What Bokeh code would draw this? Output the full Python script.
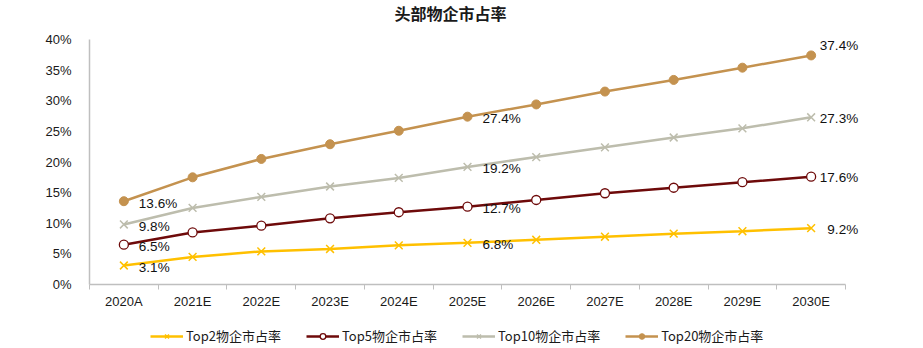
from bokeh.plotting import figure
from bokeh.layouts import column
from bokeh.models import (Range1d, FixedTicker, PrintfTickFormatter, Legend, LegendItem,
                          ColumnDataSource)
from bokeh.core.properties import value
from bokeh.embed import file_html
from bokeh.resources import INLINE

title_text = "头部物企市占率"
categories = ["2020A", "2021E", "2022E", "2023E", "2024E", "2025E",
              "2026E", "2027E", "2028E", "2029E", "2030E"]
top2 = [3.1, 4.5, 5.4, 5.8, 6.4, 6.8, 7.3, 7.8, 8.3, 8.7, 9.2]
top5 = [6.5, 8.5, 9.6, 10.8, 11.8, 12.7, 13.8, 14.9, 15.8, 16.7, 17.6]
top10 = [9.8, 12.5, 14.3, 16.0, 17.4, 19.2, 20.8, 22.4, 24.0, 25.5, 27.3]
top20 = [13.6, 17.5, 20.5, 22.9, 25.1, 27.4, 29.4, 31.5, 33.4, 35.4, 37.4]
series_names = ["Top2物企市占率", "Top5物企市占率", "Top10物企市占率", "Top20物企市占率"]
y_ticks = [0, 5, 10, 15, 20, 25, 30, 35, 40]
label_idx = [0, 5, 10]

FONT = "Liberation Sans"
CJK = "Noto Sans CJK SC"
BL, BR = 89, 53
TH, LH = 26, 30
n = len(categories)

# ---- title strip ----
tf = figure(width=923, height=TH, output_backend="svg", toolbar_location=None,
            x_axis_type=None, y_axis_type=None,
            x_range=Range1d(BL, 923 - BR), y_range=Range1d(0, TH),
            min_border_left=BL, min_border_right=BR, min_border_top=0, min_border_bottom=0)
tf.grid.visible = False
tf.outline_line_color = None
tf.text(x=[450], y=[TH - 12], text=[title_text], text_align="center", text_baseline="middle",
        text_font=value(CJK), text_font_size="16px", text_font_style="bold",
        text_color="#1a1a1a")

# ---- main chart ----
MH = 348 - TH - LH
p = figure(width=923, height=MH, output_backend="svg", toolbar_location=None,
           x_range=Range1d(-0.5, n - 0.5 + 25 / 68.73), y_range=Range1d(0, 40),
           min_border_left=BL, min_border_right=BR, min_border_top=39 - TH,
           min_border_bottom=MH - (284 - TH))
p.outline_line_color = None
p.xgrid.visible = False
p.ygrid.visible = False
p.background_fill_color = "white"
p.border_fill_color = "white"

xs = list(range(n))
xa = p.xaxis[0]
xa.bounds = (-0.5, n - 0.5)
xa.ticker = FixedTicker(ticks=xs, minor_ticks=[i - 0.5 for i in range(n + 1)])
xa.major_label_overrides = {i: c for i, c in enumerate(categories)}
xa.major_tick_line_color = None
xa.minor_tick_line_color = "#BFBFBF"
xa.minor_tick_out = 5
xa.minor_tick_in = 0
xa.axis_line_color = "#BFBFBF"
xa.axis_line_width = 1.5
xa.major_label_text_font = FONT
xa.major_label_text_font_size = "13px"
xa.major_label_text_color = "#1a1a1a"
xa.major_label_standoff = 3

ya = p.yaxis[0]
ya.ticker = FixedTicker(ticks=y_ticks)
ya.formatter = PrintfTickFormatter(format="%d%%")
ya.major_tick_line_color = None
ya.minor_tick_line_color = None
ya.axis_line_color = "#BFBFBF"
ya.axis_line_width = 1.5
ya.major_label_text_font = FONT
ya.major_label_text_font_size = "13px"
ya.major_label_text_color = "#1a1a1a"
ya.major_label_standoff = 12

# ---- legend strip ----
lf = figure(width=923, height=LH, output_backend="svg", toolbar_location=None,
            x_axis_type=None, y_axis_type=None,
            x_range=Range1d(1000, 1001), y_range=Range1d(1000, 1001),
            min_border_left=BL, min_border_right=BR, min_border_top=0, min_border_bottom=0)
lf.grid.visible = False
lf.outline_line_color = None

colors = ["#FFC000", "#6E0A0A", "#BDBDAD", "#C4924F"]
data = [top2, top5, top10, top20]
items = []


def draw(fig, src, i, col):
    ln = fig.line("x", "y", source=src, line_color=col, line_width=2.5)
    if i == 0 or i == 2:
        mk = fig.scatter("x", "y", source=src, marker="x", size=11, line_color=col, line_width=1.5)
    elif i == 1:
        mk = fig.scatter("x", "y", source=src, marker="circle", size=9, line_color=col,
                         fill_color="white", line_width=1.3)
    else:
        mk = fig.scatter("x", "y", source=src, marker="circle", size=9, line_color=col,
                         fill_color=col)
    return ln, mk


for i, (vals, col, name) in enumerate(zip(data, colors, series_names)):
    src = ColumnDataSource(dict(x=xs, y=vals))
    draw(p, src, i, col)
    ln, mk = draw(lf, src, i, col)
    items.append(LegendItem(label=name, renderers=[ln, mk]))

    # data labels
    lx = [xs[k] for k in label_idx[:2]]
    ly = [vals[k] for k in label_idx[:2]]
    lt = [f"{vals[k]:.1f}%" for k in label_idx[:2]]
    p.text(x=lx, y=ly, text=lt, x_offset=15, y_offset=2, text_align="left",
           text_baseline="middle", text_font=value(FONT), text_font_size="13.5px",
           text_color="#111111")
    k = label_idx[2]
    p.text(x=[xs[k]], y=[vals[k]], text=[f"{vals[k]:.1f}%"], x_offset=47,
           y_offset=(-10 if i == 3 else 1), text_align="right", text_baseline="middle",
           text_font=value(FONT), text_font_size="13.5px", text_color="#111111")

legend = Legend(items=items, orientation="horizontal", location=(61, 3),
                label_text_font=CJK, label_text_font_size="13px", label_text_color="#1a1a1a",
                glyph_width=33, glyph_height=14, spacing=25, label_standoff=3,
                padding=0, margin=0, border_line_color=None, background_fill_alpha=0)
lf.add_layout(legend, "center")

layout = column(tf, p, lf, spacing=0)
open("out.html", "w").write(file_html(layout, INLINE))
